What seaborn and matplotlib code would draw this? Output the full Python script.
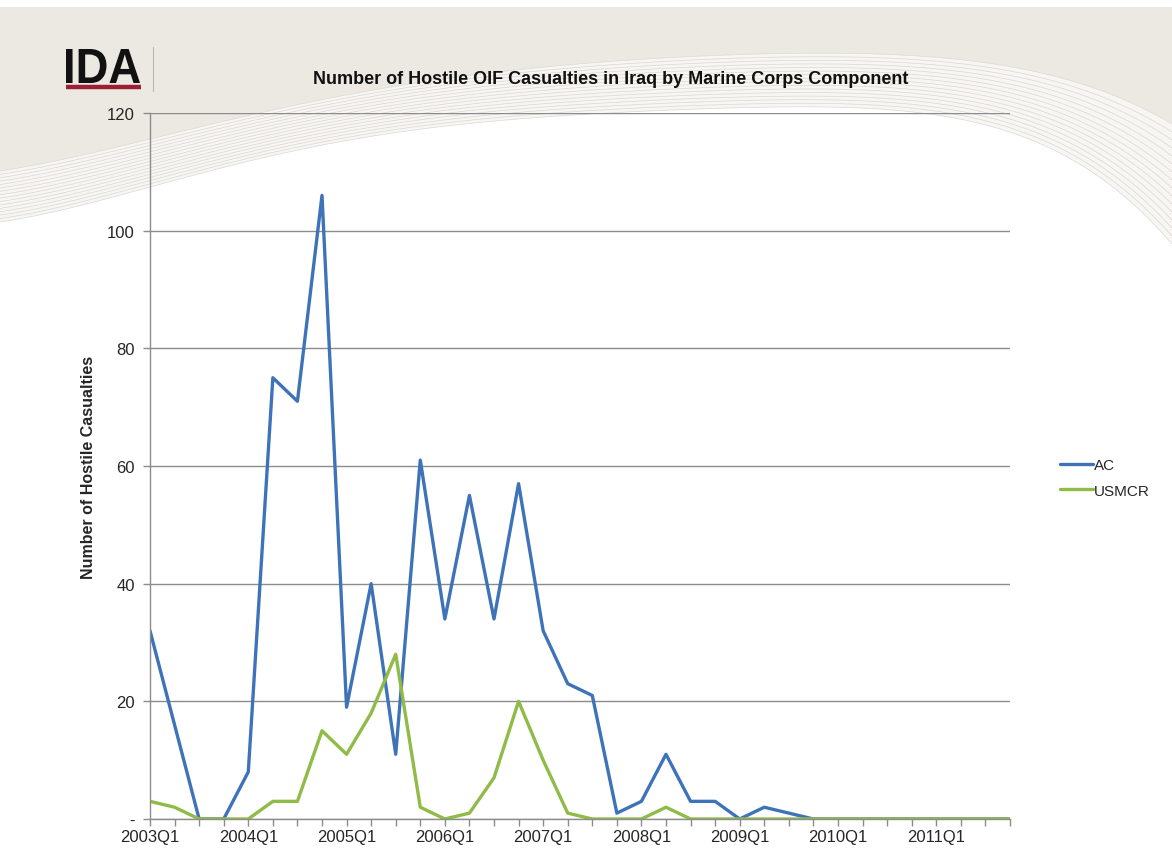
import numpy as np
import pandas as pd
import matplotlib
matplotlib.use("Agg")
import matplotlib.pyplot as plt
import seaborn as sns
from matplotlib.textpath import TextPath
from matplotlib.patches import PathPatch
from matplotlib.font_manager import FontProperties
from matplotlib.transforms import Affine2D

# Quarterly hostile casualty counts, 2003Q1 through 2011Q4
quarters = [f"{y}Q{q}" for y in range(2003, 2012) for q in range(1, 5)]
ac = [32, 16, 0, 0, 8, 75, 71, 106, 19, 40, 11, 61, 34, 55, 34, 57, 32, 23,
      21, 1, 3, 11, 3, 3, 0, 2, 1, 0, 0, 0, 0, 0, 0, 0, 0, 0]
usmcr = [3, 2, 0, 0, 0, 3, 3, 15, 11, 18, 28, 2, 0, 1, 7, 20, 10, 1,
         0, 0, 0, 2, 0, 0, 0, 0, 0, 0, 0, 0, 0, 0, 0, 0, 0, 0]
series_names = ["AC", "USMCR"]
y_ticks = [0, 20, 40, 60, 80, 100, 120]
y_tick_labels = ["-", "20", "40", "60", "80", "100", "120"]

df = pd.DataFrame({
    "quarter_idx": list(range(len(quarters))) * 2,
    "casualties": ac + usmcr,
    "component": [series_names[0]] * len(ac) + [series_names[1]] * len(usmcr),
})

sns.set_theme(style="white")
FONT = ["Liberation Sans", "DejaVu Sans"]
plt.rcParams["font.family"] = FONT

W, H = 1172, 853
fig = plt.figure(figsize=(W / 100, H / 100), dpi=100)
fig.patch.set_facecolor("white")

# ---- slide background: beige header with a swoosh of thin lines ----
bg = fig.add_axes([0, 0, 1, 1], zorder=-5)
bg.set_xlim(0, W)
bg.set_ylim(H, 0)
bg.axis("off")
xs = np.linspace(0, W, 400)
top_pts_x = [0, 150, 300, 450, 600, 800, 920, 1033, 1108, 1172]
top_pts_y = [172, 140, 105, 80, 62, 55, 57, 72, 94, 125]
bot_pts_x = [0, 150, 300, 450, 600, 800, 920, 1033, 1108, 1172]
bot_pts_y = [223, 188, 150, 128, 113, 108, 115, 140, 185, 245]
upper = np.polyval(np.polyfit(top_pts_x, top_pts_y, 5), xs)
lower = np.polyval(np.polyfit(bot_pts_x, bot_pts_y, 5), xs)
bg.fill_between(xs, 8, upper, color="#ece8e2", lw=0)
bg.fill_between(xs, upper, lower, color="#f7f6f3", lw=0)
for t in np.linspace(0, 1, 16):
    bg.plot(xs, upper + (lower - upper) * t, color="#dbd8d3", lw=0.5)
bg.fill_between(xs, 0, 8, color="white", lw=0)

# logo: bold letters stretched into their box, red rule and separator
logo = TextPath((0, 0), "IDA", size=1,
                prop=FontProperties(family="Liberation Sans", weight="bold"))
ext = logo.get_extents()
x0, x1, ytop, ybot = 66, 140, 50, 84
tr = (Affine2D().translate(-ext.x0, -ext.y0)
      .scale((x1 - x0) / ext.width, -(ybot - ytop) / ext.height)
      .translate(x0, ybot))
bg.add_patch(PathPatch(tr.transform_path(logo), facecolor="#111111", lw=0))
bg.plot([66, 141], [87.5, 87.5], color="#9c1f35", lw=3.2, solid_capstyle="butt")
bg.plot([153, 153], [48, 92], color="#b9b5b0", lw=0.8)

# ---- main chart ----
ax = fig.add_axes([150 / W, 1 - 820 / H, 860 / W, 706 / H])
ax.patch.set_alpha(0)
palette = {"AC": "#3e73b9", "USMCR": "#8fbb46"}
sns.lineplot(data=df, x="quarter_idx", y="casualties", hue="component",
             palette=palette, linewidth=2.4, ax=ax, legend=True)

ax.set_xlim(0, len(quarters) - 1)
ax.set_ylim(0, 120)
ax.set_yticks(y_ticks)
ax.set_yticklabels(y_tick_labels, fontsize=12)
ax.set_xticks(range(0, len(quarters), 4))
ax.set_xticklabels(quarters[::4], fontsize=12)
ax.set_xticks(range(len(quarters)), minor=True)
ax.yaxis.grid(True, color="#8c8c8c", lw=1.0)
ax.xaxis.grid(False)
ax.set_axisbelow(True)
for s in ["top", "right"]:
    ax.spines[s].set_visible(False)
for s in ["left", "bottom"]:
    ax.spines[s].set_color("#8c8c8c")
    ax.spines[s].set_linewidth(1.0)
ax.tick_params(axis="y", which="major", left=True, length=5, width=1.0,
               color="#8c8c8c", pad=6)
ax.tick_params(axis="x", which="both", bottom=True, length=5, width=1.0,
               color="#8c8c8c", pad=2, direction="out")
ax.set_xlabel("")
ax.set_ylabel("Number of Hostile Casualties", fontsize=11.5, fontweight="bold",
              labelpad=8)

leg = ax.legend(loc="center left", bbox_to_anchor=(1.042, 0.483), frameon=False,
                fontsize=11, handlelength=2.2, handletextpad=0.0,
                labelspacing=0.75)

fig.text(611 / W, 1 - 80 / H,
         "Number of Hostile OIF Casualties in Iraq by Marine Corps Component",
         fontsize=13, fontweight="bold", ha="center", va="center",
         color="#111111")

fig.savefig("out.png", dpi=100)
